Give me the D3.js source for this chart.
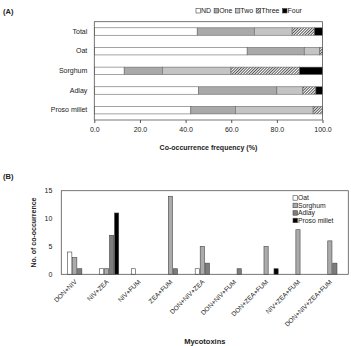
<!DOCTYPE html>
<html>
<head>
<meta charset="utf-8">
<script src="https://cdn.jsdelivr.net/npm/d3@7"></script>
<style>
  body { margin: 0; background: #fff; }
  text { font-family: "Liberation Sans", Arial, sans-serif; fill: #222; }
</style>
</head>
<body>
<div id="chart"></div>
<script>
// panel A data (%)
var grains = ["Total", "Oat", "Sorghum", "Adlay", "Proso millet"];
var levels = ["ND", "One", "Two", "Three", "Four"];
var ndVals    = [45.1, 67.0, 13.1, 45.7, 42.3];
var oneVals   = [25.0, 25.0, 16.7, 34.3, 19.5];
var twoVals   = [16.6, 6.8, 30.1, 11.4, 34.1];
var threeVals = [9.8, 1.2, 30.0, 5.7, 4.1];
var fourVals  = [3.5, 0, 10.1, 2.9, 0];
var freqTicks = [0, 20, 40, 60, 80, 100];

// panel B data (counts)
var combos = ["DON+NIV", "NIV+ZEA", "NIV+FUM", "ZEA+FUM", "DON+NIV+ZEA",
  "DON+NIV+FUM", "DON+ZEA+FUM", "NIV+ZEA+FUM", "DON+NIV+ZEA+FUM"];
var crops = ["Oat", "Sorghum", "Adlay", "Proso millet"];
var oatCounts     = [4, 1, 1, 0, 1, 0, 0, 0, 0];
var sorghumCounts = [3, 1, 0, 14, 5, 0, 5, 8, 6];
var adlayCounts   = [1, 7, 0, 1, 2, 1, 0, 0, 2];
var prosoCounts   = [0, 11, 0, 0, 0, 0, 1, 0, 0];
var countTicks = [0, 5, 10, 15];

var width = 351, height = 346;
var font = "Liberation Sans, Arial, sans-serif";
var svg = d3.select("#chart").append("svg")
  .attr("width", width).attr("height", height);

var defs = svg.append("defs");
var pat = defs.append("pattern")
  .attr("id", "hatch").attr("patternUnits", "userSpaceOnUse")
  .attr("width", 2).attr("height", 2)
  .attr("patternTransform", "rotate(45)");
pat.append("rect").attr("width", 2).attr("height", 2).attr("fill", "#fff");
pat.append("rect").attr("width", 1).attr("height", 2).attr("fill", "#555");

var colA = {ND: "#fff", One: "#a9a9a9", Two: "#c4c4c4", Three: "url(#hatch)", Four: "#000"};

// ---------- panel A ----------
var ax0 = 94.3, ax1 = 322.5, ay0 = 21.7, ay1 = 120;
var xA = d3.scaleLinear().domain([0, 100]).range([ax0, ax1]);
var yA = d3.scaleBand().domain(grains).range([ay0, ay1]).paddingInner(0.62).paddingOuter(0.31);

var rowsA = grains.map(function(g, i) {
  return {grain: g, ND: ndVals[i], One: oneVals[i], Two: twoVals[i], Three: threeVals[i], Four: fourVals[i]};
});
var stackA = d3.stack().keys(levels)(rowsA);

var gA = svg.append("g");
gA.append("text").attr("x", 3).attr("y", 14).attr("font-size", 7.5).attr("font-weight", "bold").text("(A)");

stackA.forEach(function(s) {
  gA.selectAll(null).data(s.filter(function(d) { return d[1] - d[0] > 0; }))
    .enter().append("rect")
    .attr("x", function(d) { return xA(d[0]); })
    .attr("y", function(d) { return yA(d.data.grain); })
    .attr("width", function(d) { return xA(d[1]) - xA(d[0]); })
    .attr("height", yA.bandwidth())
    .attr("fill", colA[s.key])
    .attr("stroke", "#666")
    .attr("stroke-width", 0.6);
});

gA.append("rect").attr("x", ax0).attr("y", ay0).attr("width", ax1 - ax0).attr("height", ay1 - ay0)
  .attr("fill", "none").attr("stroke", "#555").attr("stroke-width", 0.8);

var xAxisA = gA.append("g").attr("transform", "translate(0," + ay1 + ")")
  .call(d3.axisBottom(xA).tickValues(freqTicks).tickSize(3).tickFormat(d3.format(".1f")));
xAxisA.select(".domain").remove();
xAxisA.selectAll("line").attr("stroke", "#555");
xAxisA.selectAll("text").attr("font-size", 7).attr("font-family", font).attr("fill", "#333").attr("dy", "0.9em");

var yAxisA = gA.append("g").attr("transform", "translate(" + ax0 + ",0)")
  .call(d3.axisLeft(yA).tickSize(0).tickPadding(7));
yAxisA.select(".domain").remove();
yAxisA.selectAll("text").attr("font-size", 7).attr("font-family", font).attr("fill", "#333");

gA.append("text").attr("x", (ax0 + ax1) / 2).attr("y", 150).attr("text-anchor", "middle")
  .attr("font-size", 7).attr("font-weight", "bold").text("Co-occurrence frequency (%)");

// legend A
var legA = gA.append("g").attr("transform", "translate(196,11)");
var lx = 0;
levels.forEach(function(k) {
  var item = legA.append("g").attr("transform", "translate(" + lx + ",0)");
  item.append("rect").attr("x", 0).attr("y", -2.5).attr("width", 4.5).attr("height", 4.5)
    .attr("fill", colA[k]).attr("stroke", "#444").attr("stroke-width", 0.6);
  var t = item.append("text").attr("x", 5).attr("y", 2.3).attr("font-size", 7).text(k);
  lx += 5 + t.node().getComputedTextLength() + 3;
});

// ---------- panel B ----------
var bx0 = 61.3, bx1 = 348.3, by0 = 190.7, by1 = 274.3;
var xB = d3.scaleBand().domain(combos).range([bx0, bx1]);
var xSub = d3.scaleBand().domain(crops).range([0, 20]);
var yB = d3.scaleLinear().domain([0, 15]).range([by1, by0]);
var colB = {"Oat": "#fff", "Sorghum": "#ababab", "Adlay": "#7d7d7d", "Proso millet": "#000"};
var countsB = [oatCounts, sorghumCounts, adlayCounts, prosoCounts];

var gB = svg.append("g");
gB.append("text").attr("x", 3).attr("y", 179).attr("font-size", 7.5).attr("font-weight", "bold").text("(B)");

crops.forEach(function(c, ci) {
  var pts = countsB[ci].map(function(v, i) { return {combo: combos[i], v: v}; })
    .filter(function(d) { return d.v > 0; });
  gB.selectAll(null).data(pts).enter().append("rect")
    .attr("x", function(d) { return xB(d.combo) + xB.bandwidth() / 2 - 10 + xSub(c) + 0.4; })
    .attr("y", function(d) { return yB(d.v); })
    .attr("width", xSub.bandwidth() - 0.8)
    .attr("height", function(d) { return yB(0) - yB(d.v); })
    .attr("fill", colB[c]).attr("stroke", "#444").attr("stroke-width", 0.6);
});

gB.append("rect").attr("x", bx0).attr("y", by0).attr("width", bx1 - bx0).attr("height", by1 - by0)
  .attr("fill", "none").attr("stroke", "#555").attr("stroke-width", 0.8);

var yAxisB = gB.append("g").attr("transform", "translate(" + bx0 + ",0)")
  .call(d3.axisLeft(yB).tickValues(countTicks).tickSize(0).tickPadding(9));
yAxisB.select(".domain").remove();
yAxisB.selectAll("text").attr("font-size", 7).attr("font-family", font).attr("fill", "#333");

var xAxisB = gB.append("g").attr("transform", "translate(0," + by1 + ")")
  .call(d3.axisBottom(xB).tickSize(0).tickPadding(0));
xAxisB.select(".domain").remove();
xAxisB.selectAll("text")
  .attr("font-size", 6.5).attr("font-family", font).attr("fill", "#333")
  .attr("text-anchor", "end").attr("dy", 0)
  .attr("transform", "translate(0,8) rotate(-45)");

gB.append("text").attr("transform", "translate(36," + ((by0 + by1) / 2) + ") rotate(-90)")
  .attr("text-anchor", "middle").attr("font-size", 7).attr("font-weight", "bold").text("No. of co-occurrence");

gB.append("text").attr("x", (bx0 + bx1) / 2).attr("y", 344).attr("text-anchor", "middle")
  .attr("font-size", 7.5).attr("font-weight", "bold").text("Mycotoxins");

// legend B
var legB = gB.append("g").attr("transform", "translate(293,198)");
crops.forEach(function(c, i) {
  var item = legB.append("g").attr("transform", "translate(0," + (i * 7.5) + ")");
  item.append("rect").attr("x", 0).attr("y", -2.3).attr("width", 4.5).attr("height", 4.5)
    .attr("fill", colB[c]).attr("stroke", "#444").attr("stroke-width", 0.6);
  item.append("text").attr("x", 5).attr("y", 2.4).attr("font-size", 6.8).text(c);
});
</script>
</body>
</html>
